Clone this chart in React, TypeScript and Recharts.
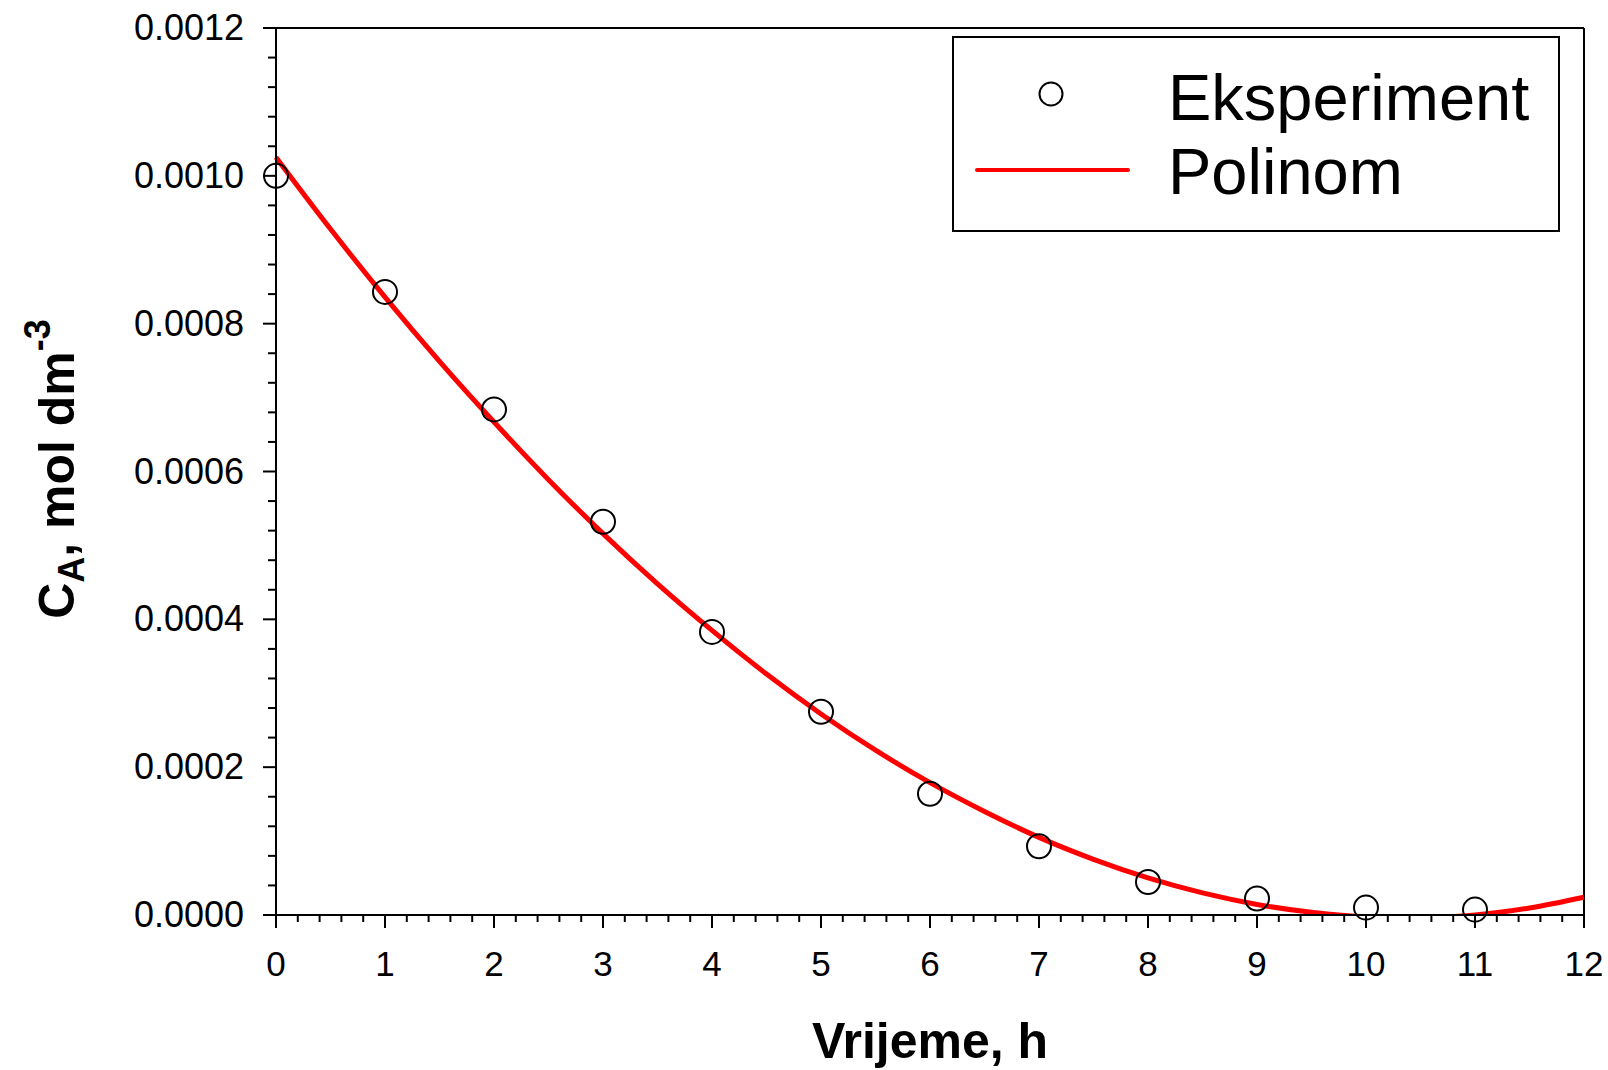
import { ComposedChart, Line, Scatter, XAxis, YAxis, ReferenceLine } from 'recharts'

// measured concentration (mol dm^-3) vs time (h)
const hours = [0, 1, 2, 3, 4, 5, 6, 7, 8, 9, 10, 11]
const measured = [0.001, 0.000843, 0.000684, 0.000532, 0.000383, 0.000275, 0.000164, 0.000093, 0.0000446, 0.0000224, 0.00001, 0.0000073]

// fitted polynomial, every half hour
const fitHours = [0, 0.5, 1, 1.5, 2, 2.5, 3, 3.5, 4, 4.5, 5, 5.5, 6, 6.5, 7, 7.5, 8, 8.5, 9, 9.5, 10, 10.5, 11, 11.5, 12]
const fitValues = [
  0.001025, 0.000928, 0.000836, 0.000749, 0.000667, 0.000589, 0.000516, 0.000448, 0.000385, 0.000326,
  0.000272, 0.000223, 0.000179, 0.00014, 0.000105, 0.0000753, 0.0000502, 0.0000299, 0.0000143, 0.0000036,
  -0.0000024, -0.0000036, 0, 0.0000095, 0.000024,
]

const yTicks = [0, 0.0002, 0.0004, 0.0006, 0.0008, 0.001, 0.0012]
const yTickLabels = ['0.0000', '0.0002', '0.0004', '0.0006', '0.0008', '0.0010', '0.0012']
const xTicks = [0, 1, 2, 3, 4, 5, 6, 7, 8, 9, 10, 11, 12]
const xTickLabels = ['0', '1', '2', '3', '4', '5', '6', '7', '8', '9', '10', '11', '12']
const seriesNames = ['Eksperiment', 'Polinom']

const FONT = '"Liberation Sans", Arial, Helvetica, sans-serif'
const W = 1608
const H = 1070

const expData = hours.map((h, i) => ({ h, c: measured[i] }))
const fitData = fitHours.map((h, i) => ({ h, c: fitValues[i] }))

// 4 minor ticks between each pair of majors
function subdivide(major: number[], n: number) {
  const out: number[] = []
  for (let i = 0; i < major.length - 1; i++) {
    const step = (major[i + 1] - major[i]) / n
    for (let k = 0; k < n; k++) out.push(major[i] + k * step)
  }
  out.push(major[major.length - 1])
  return out
}
const yAllTicks = subdivide(yTicks, 5)
const xAllTicks = subdivide(xTicks, 5)

function YTick(props: any) {
  const { x, y, index } = props
  const major = index % 5 === 0
  return (
    <g>
      <line x1={x - (major ? 13 : 8)} x2={x} y1={y} y2={y} stroke="#000" strokeWidth={2} />
      {major && (
        <text x={x - 32} y={y + 12} textAnchor="end" fontSize={36} fontFamily={FONT} fill="#000">
          {yTickLabels[index / 5]}
        </text>
      )}
    </g>
  )
}

function XTick(props: any) {
  const { x, y, index } = props
  const major = index % 5 === 0
  return (
    <g>
      <line x1={x} x2={x} y1={y} y2={y + (major ? 13 : 7)} stroke="#000" strokeWidth={2} />
      {major && (
        <text x={x} y={y + 61} textAnchor="middle" fontSize={35} fontFamily={FONT} fill="#000">
          {xTickLabels[index / 5]}
        </text>
      )}
    </g>
  )
}

const Ring = (p: any) => <circle cx={p.cx} cy={p.cy} r={12} fill="none" stroke="#000" strokeWidth={2} />

function ChartLegend() {
  return (
    <svg width={608} height={196} style={{ position: 'absolute', left: 952, top: 36 }}>
      <rect x={1} y={1} width={606} height={194} fill="#fff" stroke="#000" strokeWidth={2} />
      <circle cx={99} cy={58} r={11.5} fill="none" stroke="#000" strokeWidth={2} />
      <line x1={25} x2={176} y1={134} y2={134} stroke="#ff0000" strokeWidth={4} strokeLinecap="round" />
      <text x={216} y={84} fontSize={65} fontFamily={FONT} fill="#000">{seriesNames[0]}</text>
      <text x={216} y={158} fontSize={65} fontFamily={FONT} fill="#000">{seriesNames[1]}</text>
    </svg>
  )
}

export default function App() {
  return (
    <div style={{ position: 'absolute', left: 0, top: 0, width: W, height: H, background: '#fff' }}>
      <ComposedChart width={W} height={H} margin={{ top: 28, right: 24, bottom: 0, left: 0 }}>
        <XAxis
          dataKey="h"
          type="number"
          domain={[0, 12]}
          ticks={xAllTicks}
          interval={0}
          height={155}
          tickSize={0}
          tickMargin={0}
          tickLine={false}
          axisLine={{ stroke: '#000', strokeWidth: 2 }}
          tick={<XTick />}
          label={{
            content: () => (
              <text x={930} y={1058} textAnchor="middle" fontSize={50} fontWeight="bold" fontFamily={FONT} fill="#000">
                Vrijeme, h
              </text>
            ),
          }}
        />
        <YAxis yAxisId="fit" type="number" domain={[0, 0.0012]} allowDataOverflow hide width={0} />
        <YAxis
          yAxisId="main"
          type="number"
          domain={[0, 0.0012]}
          ticks={yAllTicks}
          interval={0}
          width={276}
          tickSize={0}
          tickMargin={0}
          tickLine={false}
          axisLine={{ stroke: '#000', strokeWidth: 2 }}
          tick={<YTick />}
          label={{
            content: () => (
              <text transform="translate(74, 469) rotate(-90)" textAnchor="middle" fontSize={50} fontWeight="bold" fontFamily={FONT} fill="#000">
                C<tspan fontSize={36} dy={10}>A</tspan>
                <tspan dy={-10}>, mol dm</tspan>
                <tspan fontSize={36} dy={-24}>-3</tspan>
              </text>
            ),
          }}
        />
        <ReferenceLine yAxisId="main" y={0.0012} stroke="#000" strokeWidth={2} />
        <ReferenceLine yAxisId="main" x={12} stroke="#000" strokeWidth={2} />
        <Scatter yAxisId="main" name={seriesNames[0]} data={expData} dataKey="c" shape={Ring} isAnimationActive={false} />
        <Line
          yAxisId="fit"
          name={seriesNames[1]}
          data={fitData}
          dataKey="c"
          type="monotone"
          stroke="#ff0000"
          strokeWidth={5}
          dot={false}
          activeDot={false}
          isAnimationActive={false}
        />
      </ComposedChart>
      <ChartLegend />
    </div>
  )
}
